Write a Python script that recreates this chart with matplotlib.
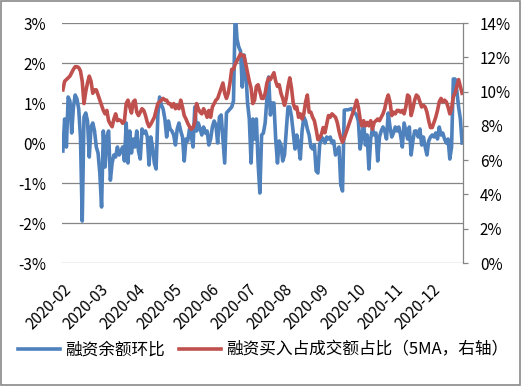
import matplotlib
matplotlib.use("Agg")
import matplotlib.pyplot as plt
import numpy as np
from matplotlib.patches import Rectangle

plt.rcParams['font.family'] = ['Noto Sans CJK SC', 'DejaVu Sans']

# ============================
# Data (trading-day index, % values)
# ============================
month_labels = ["2020-02", "2020-03", "2020-04", "2020-05", "2020-06", "2020-07",
                "2020-08", "2020-09", "2020-10", "2020-11", "2020-12"]
label_step = 21

# 融资余额环比 (left axis, %)
margin_chg = [
    -0.2, 0.6, -0.1, 1.15, 1.05, 0.25, 0.9, 1.2, 1.1, 0.85,
    0.15, -1.95, 0.65, 0.75, 0.55, -0.35, 0.4, 0.5, 0.3, -0.1,
    -0.25, -0.75, -1.6, 0.3, -0.6, 0.15, 0.3, -0.93, -0.5, -0.3,
    -0.35, -0.1, -0.3, -0.2, -0.1, -0.45, 0.5, -0.5, 0.3, -0.25,
    0.1, -0.1, 0.3, -0.2, -0.4, 0.35, 0.25, 0.3, 0.15, -0.55,
    0.15, -0.1, -0.5, -0.65, 0.7, 1.15, 0.95, 0.85, 0.6, 0.15,
    0.55, 0.35, 0.3, 0.2, -0.05, 0.35, 0.5, 0.3, 0.15, -0.45,
    0.1, 0.05, 0.35, 0.2, -0.1, 0.9, 0.3, 0.5, 0.35, 0.2,
    0.4, 0.25, 0.3, -0.05, 0.1, 0.4, 0.55, 0.45, 0.0, 0.65,
    0.7, 0.1, -0.5, 0.75, 0.8, 0.85, 0.9, 1.05, 3.3, 2.6,
    2.4, 2.3, 1.4, 2.2, 1.8, 1.0, 0.6, -0.5, 0.6, 0.1,
    0.6, -0.5, -1.25, 0.2, 0.25, 0.5, 1.1, 1.65, 0.7, 1.0,
    1.0, 0.1, -0.5, 0.05, -0.05, -0.45, -0.3, 0.3, 0.9, 0.9,
    0.65, 0.25, -0.15, 0.2, -0.05, -0.4, 0.3, 0.65, 0.55, 0.35,
    0.2, -0.1, -0.15, -0.05, -0.7, -0.75, -0.05, 0.15, 0.1, 0.0,
    0.15, 0.1, 0.15, 0.0, 0.05, -0.3, -0.2, -0.1, -1.05, -1.2,
    0.82, 0.83, 0.83, 0.84, 0.86, 0.8, 0.75, 0.7, 0.55, -0.15,
    0.15, 0.5, -0.05, 0.2, -0.65, 0.1, 0.35, 0.2, 0.25, -0.45,
    0.15, 0.3, 0.4, 0.3, 0.1, 0.75, 0.4, 0.15, 0.25, 0.4,
    0.3, 0.4, 0.2, -0.1, 0.5, 0.3, 0.1, 0.4, -0.3, 0.05,
    0.3, 0.3, 0.15, 0.35, -0.05, 0.15, -0.1, -0.3, 0.05, 0.15,
    0.2, 0.15, 0.25, 0.1, 0.4, 0.2, 0.25, 0.1, 0.0, 0.1,
    -0.4, -0.1, 1.6, 1.6, 1.3, 0.9, 0.6, 0.0,
]

# 融资买入占成交额占比 5MA (right axis, %)
buy_ratio = [
    10.1, 10.6, 10.7, 10.8, 10.9, 11.1, 11.3, 11.45, 11.45, 11.4,
    11.2, 10.6, 9.3, 10.0, 10.5, 10.9, 10.6, 9.9, 10.1, 10.1,
    9.8, 9.5, 9.2, 8.9, 8.7, 8.9, 8.3, 8.1, 7.95, 8.4,
    8.7, 8.3, 8.35, 8.3, 8.15, 8.3, 9.3, 9.5, 9.1, 8.75,
    9.4, 9.5, 8.8, 8.6, 8.8, 9.0, 8.9, 8.6, 8.2, 7.95,
    8.1, 8.3, 8.5, 8.9, 9.3, 9.4, 9.5, 9.6, 9.5, 9.5,
    9.3, 9.3, 9.1, 9.3, 9.0, 9.2, 9.0, 9.5, 9.1, 8.6,
    8.4, 8.15, 7.95, 7.8, 7.9, 8.2, 9.3, 9.0, 8.8, 8.7,
    9.0, 8.8, 8.5, 8.9, 8.5, 9.1, 9.3, 9.5, 9.6, 9.9,
    10.2, 10.5, 9.9, 9.6, 9.9, 10.5, 11.3, 11.3, 11.6, 11.8,
    12.0, 12.2, 12.1, 12.1, 11.6, 11.1, 10.6, 10.2, 9.3, 9.5,
    10.3, 10.4, 10.0, 9.6, 9.6, 9.9, 10.5, 10.8, 10.7, 10.9,
    11.1, 10.6, 10.3, 10.4, 9.9, 9.6, 9.2, 9.6, 10.3, 10.8,
    10.2, 9.3, 9.0, 9.1, 8.5, 8.7, 8.4, 8.7, 9.4, 9.8,
    8.8, 8.8, 8.5, 8.3, 7.8, 7.2, 7.3, 7.5, 7.9, 7.6,
    8.1, 8.6, 8.5, 8.7, 8.6, 8.5, 8.2, 7.7, 7.3, 7.05,
    7.3, 7.6, 7.9, 8.2, 8.5, 8.8, 9.1, 9.5, 9.1, 8.4,
    8.0, 8.3, 8.0, 8.2, 8.0, 8.3, 7.8, 8.2, 8.3, 8.4,
    8.3, 8.5, 8.7, 9.0, 9.5, 9.8, 9.4, 8.6, 8.8, 8.7,
    8.9, 8.9, 8.8, 8.9, 8.7, 9.1, 9.8, 9.7, 8.6, 9.0,
    9.5, 9.8, 9.7, 9.4, 9.1, 9.2, 9.1, 8.8, 8.3, 7.9,
    7.9, 8.2, 8.5, 8.9, 9.4, 9.6, 9.4, 9.5, 9.4, 9.1,
    8.7, 9.0, 9.7, 9.9, 10.3, 10.7, 10.3, 9.9,
]

left_ticks = [-3, -2, -1, 0, 1, 2, 3]
right_ticks = [0, 2, 4, 6, 8, 10, 12, 14]

BLUE = "#4F81BD"
RED = "#C0504D"
GRID = "#868686"

# ============================
# Figure
# ============================
W, H = 522, 386
fig = plt.figure(figsize=(W / 100, H / 100), dpi=100)
ax = fig.add_axes([62 / W, 1 - 263 / H, 401 / W, 240 / H])
ax2 = ax.twinx()

x = np.arange(len(margin_chg))
l1, = ax.plot(x, margin_chg, color=BLUE, lw=2.6, solid_joinstyle="round",
              label="融资余额环比")
l2, = ax2.plot(x, buy_ratio, color=RED, lw=2.6, solid_joinstyle="round",
               label="融资买入占成交额占比（5MA，右轴）")

ax.set_xlim(-0.5, len(x) - 0.5)
ax.set_ylim(-3, 3)
ax2.set_ylim(0, 14)

ax.set_yticks(left_ticks)
ax.set_yticklabels([f"{v}%" for v in left_ticks])
ax.yaxis.grid(True, color=GRID, lw=0.9)
ax.set_axisbelow(True)
ax.tick_params(axis="y", length=0, pad=11.5, labelsize=11)

ax2.set_yticks(right_ticks)
ax2.set_yticklabels([f"{v}%" for v in right_ticks])
ax2.tick_params(axis="y", direction="out", length=3.6, width=0.9,
                color=GRID, pad=8.5, labelsize=11)

ticks = [i * label_step for i in range(len(month_labels))]
ax.set_xticks(ticks)
ax.set_xticklabels(month_labels, rotation=45, ha="right", va="top",
                   rotation_mode="anchor")
ax.tick_params(axis="x", length=0, pad=13, labelsize=11)

for s in ax.spines.values():
    s.set_visible(False)
for name, s in ax2.spines.items():
    if name == "right":
        s.set_color(GRID)
        s.set_linewidth(0.9)
    else:
        s.set_visible(False)

fig.legend(handles=[l1, l2], loc="center", bbox_to_anchor=(0.504, 0.093),
           ncol=2, frameon=False, fontsize=12, handlelength=2.5,
           handletextpad=0.3, columnspacing=0.9)

# outer border
fig.patches.append(Rectangle((0.002, 0.003), 0.995, 0.994,
                             transform=fig.transFigure, fill=False,
                             edgecolor="#898989", lw=1.2))

fig.savefig("out.png", dpi=100)
